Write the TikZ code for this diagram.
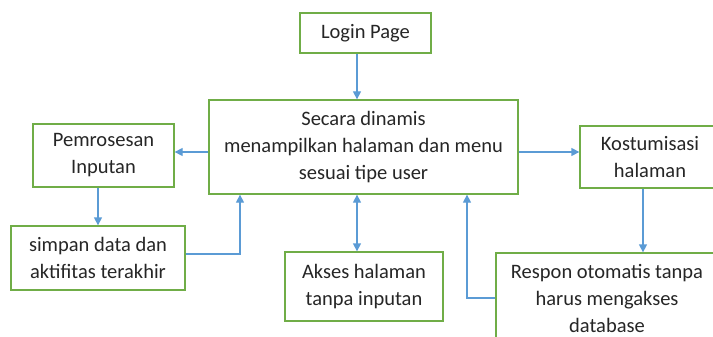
\documentclass[tikz,border=0pt]{standalone}
\usepackage{fontspec}
\setmainfont{Carlito}
\usetikzlibrary{arrows.meta}
\definecolor{boxgreen}{HTML}{70AD47}
\definecolor{arrblue}{HTML}{5B9BD5}
\definecolor{txt}{HTML}{262626}
\begin{document}
\begin{tikzpicture}[x=1pt,y=-1pt,
  box/.style={draw=boxgreen,line width=1.3pt,fill=white,inner sep=0pt,align=center,
    text=txt,font=\fontsize{20.5}{27}\selectfont},
  arr/.style={draw=arrblue,line width=1.3pt,-{Triangle[length=8pt,width=8pt]}},
  darr/.style={draw=arrblue,line width=1.3pt,{Triangle[length=8pt,width=8pt]}-{Triangle[length=8pt,width=8pt]}}]
\useasboundingbox (0,0) rectangle (713,337);
\clip (0,0) rectangle (713,337);
\node[box,minimum width=131pt,minimum height=40pt] (login) at (365.5,33) {Login Page};
\node[box,minimum width=309pt,minimum height=94pt] (main) at (363.5,147) {Secara dinamis\\menampilkan halaman dan menu\\sesuai tipe user};
\node[box,minimum width=141pt,minimum height=63pt] (pem) at (103.5,155.5) {Pemrosesan\\Inputan};
\node[box,minimum width=174pt,minimum height=64pt] (simpan) at (98,258) {simpan data dan\\aktifitas terakhir};
\node[box,minimum width=140pt,minimum height=62pt] (kost) at (650,157) {Kostumisasi\\halaman};
\node[box,minimum width=158pt,minimum height=69pt] (akses) at (364,286.5) {Akses halaman\\tanpa inputan};
\node[box,minimum width=222pt,minimum height=90pt] (respon) at (607,298) {Respon otomatis tanpa\\harus mengakses\\database};
\coordinate (xa) at (357,0);
\coordinate (xb) at (240,0);
\coordinate (xc) at (467,0);
\coordinate (xd) at (98,0);
\coordinate (xe) at (643,0);
\coordinate (ya) at (0,152);
\coordinate (yb) at (0,254);
\coordinate (yc) at (0,298);
\draw[arr] (login.south -| xa) -- (main.north -| xa);
\draw[arr] (main.west |- ya) -- (pem.east |- ya);
\draw[arr] (main.east |- ya) -- (kost.west |- ya);
\draw[arr] (pem.south -| xd) -- (simpan.north -| xd);
\draw[arr] (simpan.east |- yb) -| (main.south -| xb);
\draw[arr] (kost.south -| xe) -- (respon.north -| xe);
\draw[arr] (respon.west |- yc) -| (main.south -| xc);
\draw[darr] (main.south -| xa) -- (akses.north -| xa);
\end{tikzpicture}
\end{document}
